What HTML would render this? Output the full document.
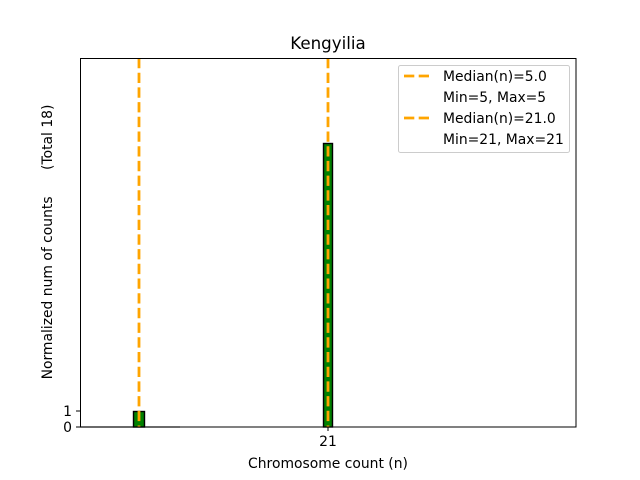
<!DOCTYPE html>
<html><head><style>body{margin:0;background:#fff}svg{display:block}text{font-family:"DejaVu Sans","Liberation Sans",sans-serif;fill:#000;white-space:pre}</style></head>
<body>
<svg width="640" height="480" viewBox="0 0 640 480" xmlns="http://www.w3.org/2000/svg">
<rect width="640" height="480" fill="#fff"/>
<line x1="80" y1="427" x2="180" y2="427" stroke="#aaa" stroke-width="1.5"/>
<rect x="133.5" y="411.5" width="11" height="15.5" fill="green" stroke="#000" stroke-width="1.4"/>
<rect x="323.5" y="143.5" width="9" height="283.5" fill="green" stroke="#000" stroke-width="1.4"/>
<line x1="139" y1="58" x2="139" y2="427" stroke="orange" stroke-width="2.8" stroke-dasharray="10.3,4.4"/>
<line x1="328" y1="58" x2="328" y2="427" stroke="orange" stroke-width="2.8" stroke-dasharray="10.3,4.4"/>
<rect x="80.5" y="58.5" width="495.5" height="368.5" fill="none" stroke="#000" stroke-width="1"/>
<line x1="76" y1="427" x2="80" y2="427" stroke="#000"/>
<line x1="76" y1="411" x2="80" y2="411" stroke="#000"/>
<line x1="328" y1="427" x2="328" y2="431" stroke="#000"/>
<text x="72" y="432" font-size="13.9" text-anchor="end">0</text>
<text x="72" y="416" font-size="13.9" text-anchor="end">1</text>
<text x="328" y="446" font-size="13.9" text-anchor="middle">21</text>
<text x="328" y="468" font-size="13.9" text-anchor="middle">Chromosome count (n)</text>
<text transform="translate(52,242) rotate(-90)" font-size="13.9" text-anchor="middle" xml:space="preserve">Normalized num of counts      (Total 18)</text>
<text x="328" y="49" font-size="16.7" text-anchor="middle">Kengyilia</text>
<rect x="398.5" y="65.5" width="171" height="87" rx="2" fill="#fff" fill-opacity="0.8" stroke="#ccc" stroke-width="1"/>
<line x1="404" y1="76" x2="432" y2="76" stroke="orange" stroke-width="2.8" stroke-dasharray="10.3,4.4"/>
<line x1="404" y1="118" x2="432" y2="118" stroke="orange" stroke-width="2.8" stroke-dasharray="10.3,4.4"/>
<text x="443" y="81" font-size="13.9">Median(n)=5.0</text>
<text x="443" y="102" font-size="13.9">Min=5, Max=5</text>
<text x="443" y="123" font-size="13.9">Median(n)=21.0</text>
<text x="443" y="144" font-size="13.9">Min=21, Max=21</text>
</svg>
</body></html>
